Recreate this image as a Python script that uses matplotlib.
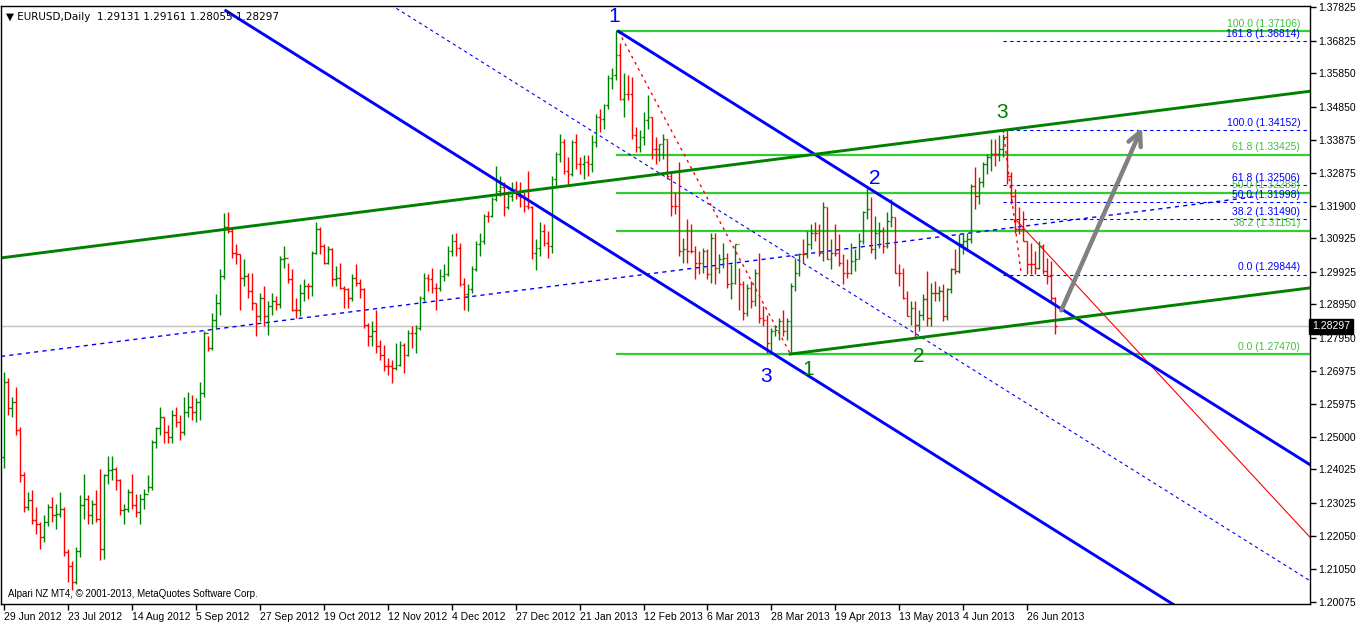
import numpy as np
import matplotlib
matplotlib.use("Agg")
import matplotlib.pyplot as plt

plt.rcParams['font.family'] = ['Liberation Sans', 'DejaVu Sans']

# daily EURUSD bars from 29 Jun 2012 to 5 Jul 2013 (open = previous close)
first_open = 1.2440
last_bar = [1.29131, 1.29161, 1.28055, 1.28297]

highs = [
    1.2693,
    1.2676, 1.2620, 1.2648, 1.2530, 1.2395,
    1.2335, 1.2340, 1.2290, 1.2245, 1.2265,
    1.2300, 1.2320, 1.2300, 1.2335, 1.2290,
    1.2165, 1.2130, 1.2170, 1.2325, 1.2390,
    1.2325, 1.2310, 1.2340, 1.2404, 1.2390,
    1.2444, 1.2443, 1.2410, 1.2375, 1.2300,
    1.2345, 1.2390, 1.2330, 1.2330, 1.2345,
    1.2385, 1.2490, 1.2530, 1.2590, 1.2560,
    1.2535, 1.2580, 1.2590, 1.2565, 1.2620,
    1.2635, 1.2625, 1.2615, 1.2665, 1.2815,
    1.2800, 1.2870, 1.2925, 1.3000, 1.3168,
    1.3172, 1.3125, 1.3075, 1.3045, 1.3030,
    1.2990, 1.2990, 1.2900, 1.2930, 1.2950,
    1.2905, 1.2930, 1.2920, 1.3040, 1.3070,
    1.3020, 1.3000, 1.2915, 1.2955, 1.2970,
    1.2960, 1.3055, 1.3140, 1.3125, 1.3075,
    1.3070, 1.3065, 1.3010, 1.3020, 1.2950,
    1.2945, 1.2985, 1.3015, 1.2970, 1.2945,
    1.2840, 1.2845, 1.2880, 1.2790, 1.2775,
    1.2735, 1.2730, 1.2780, 1.2785, 1.2780,
    1.2820, 1.2830, 1.2835, 1.2920, 1.2990,
    1.2985, 1.3005, 1.2960, 1.3000, 1.3015,
    1.3070, 1.3105, 1.3110, 1.3080, 1.2975,
    1.2955, 1.3010, 1.3085, 1.3110, 1.3165,
    1.3175, 1.3215, 1.3308, 1.3280, 1.3260,
    1.3235, 1.3260, 1.3265, 1.3260,
    1.3230, 1.3295, 1.3190, 1.3090,
    1.3140, 1.3135, 1.3115, 1.3280, 1.3350,
    1.3403, 1.3390, 1.3335, 1.3385, 1.3405,
    1.3335, 1.3340, 1.3340, 1.3400, 1.3465,
    1.3480, 1.3495, 1.3580, 1.3600, 1.3711,
    1.3675, 1.3585, 1.3580, 1.3575, 1.3425,
    1.3415, 1.3470, 1.3520, 1.3455, 1.3395,
    1.3375, 1.3405, 1.3390, 1.3290, 1.3230,
    1.3320, 1.3095, 1.3150, 1.3135, 1.3070,
    1.3055, 1.3065, 1.3060, 1.3110, 1.3110,
    1.3045, 1.3080, 1.3050, 1.3015, 1.3075,
    1.3005, 1.2965, 1.2955, 1.2965, 1.3000,
    1.3050, 1.2890, 1.2865, 1.2825, 1.2835,
    1.2855, 1.2880, 1.2855, 1.2960, 1.3035,
    1.3050, 1.3090, 1.3115, 1.3135, 1.3140,
    1.3135, 1.3200, 1.3185, 1.3090, 1.3135,
    1.3105, 1.3045, 1.3030, 1.3080, 1.3060,
    1.3110, 1.3175, 1.3243, 1.3215, 1.3160,
    1.3140, 1.3125, 1.3170, 1.3210, 1.3155,
    1.3015, 1.3005, 1.2935, 1.2905, 1.2905,
    1.2880, 1.2925, 1.2995, 1.2960, 1.2965,
    1.2950, 1.2955, 1.2945, 1.3005, 1.3060,
    1.3105, 1.3110, 1.3110, 1.3255, 1.3305,
    1.3275, 1.3320, 1.3345, 1.3390, 1.3390,
    1.3400, 1.3405, 1.3416, 1.3290, 1.3240,
    1.3185, 1.3175, 1.3085, 1.3080, 1.3055,
    1.3085, 1.3075, 1.3035, 1.3025, 1.29161,
]

lows = [
    1.2407,
    1.2565, 1.2560, 1.2505, 1.2365, 1.2275,
    1.2282, 1.2240, 1.2210, 1.2165, 1.2185,
    1.2235, 1.2245, 1.2225, 1.2260, 1.2145,
    1.2065, 1.2042, 1.2060, 1.2140, 1.2255,
    1.2240, 1.2240, 1.2245, 1.2133, 1.2135,
    1.2360, 1.2370, 1.2340, 1.2265, 1.2240,
    1.2275, 1.2285, 1.2260, 1.2240, 1.2285,
    1.2335, 1.2340, 1.2465, 1.2505, 1.2480,
    1.2480, 1.2480, 1.2530, 1.2490, 1.2505,
    1.2560, 1.2550, 1.2545, 1.2550, 1.2620,
    1.2755, 1.2760, 1.2825, 1.2865, 1.2970,
    1.3110, 1.3035, 1.3015, 1.2880, 1.2950,
    1.2915, 1.2880, 1.2800, 1.2845, 1.2830,
    1.2805, 1.2865, 1.2880, 1.2885, 1.3005,
    1.2960, 1.2875, 1.2855, 1.2860, 1.2905,
    1.2910, 1.2920, 1.3045, 1.3045, 1.3015,
    1.3015, 1.2950, 1.2950, 1.2940, 1.2885,
    1.2885, 1.2905, 1.2950, 1.2915, 1.2825,
    1.2770, 1.2770, 1.2750, 1.2730, 1.2695,
    1.2685, 1.2661, 1.2700, 1.2710, 1.2690,
    1.2740, 1.2765, 1.2750, 1.2820, 1.2905,
    1.2935, 1.2930, 1.2880, 1.2935, 1.2965,
    1.2980, 1.3040, 1.3040, 1.2950, 1.2880,
    1.2875, 1.2930, 1.2995, 1.3040, 1.3075,
    1.3140, 1.3155, 1.3205, 1.3220, 1.3160,
    1.3180, 1.3205, 1.3210, 1.3185,
    1.3170, 1.3180, 1.3030, 1.2997,
    1.3040, 1.3070, 1.3035, 1.3050, 1.3250,
    1.3320, 1.3285, 1.3255, 1.3280, 1.3300,
    1.3285, 1.3270, 1.3280, 1.3290, 1.3365,
    1.3410, 1.3420, 1.3480, 1.3540, 1.3565,
    1.3505, 1.3455, 1.3505, 1.3390, 1.3350,
    1.3350, 1.3370, 1.3420, 1.3330, 1.3315,
    1.3325, 1.3330, 1.3270, 1.3160, 1.3165,
    1.3040, 1.3020, 1.3020, 1.3050, 1.2970,
    1.2985, 1.2990, 1.2970, 1.2960, 1.2955,
    1.2990, 1.3005, 1.2945, 1.2910, 1.2955,
    1.2880, 1.2850, 1.2860, 1.2885, 1.2890,
    1.2840, 1.2830, 1.2750, 1.2750, 1.2800,
    1.2790, 1.2800, 1.2790, 1.2747, 1.2935,
    1.2980, 1.3020, 1.3035, 1.3060, 1.3085,
    1.3040, 1.3025, 1.3030, 1.3000, 1.3040,
    1.3010, 1.2955, 1.2975, 1.2985, 1.2995,
    1.3030, 1.3075, 1.3150, 1.3050, 1.3030,
    1.3065, 1.3050, 1.3065, 1.3125, 1.2990,
    1.2950, 1.2910, 1.2860, 1.2835, 1.2796,
    1.2815, 1.2850, 1.2830, 1.2830, 1.2905,
    1.2905, 1.2845, 1.2850, 1.2930, 1.2985,
    1.2990, 1.3045, 1.3055, 1.3080, 1.3180,
    1.3195, 1.3245, 1.3285, 1.3295, 1.3310,
    1.3325, 1.3335, 1.3255, 1.3195, 1.3110,
    1.3105, 1.3085, 1.2985, 1.2985, 1.2985,
    1.3000, 1.2985, 1.2955, 1.2900, 1.28055,
]

closes = [
    1.2665,
    1.2585, 1.2605, 1.2520, 1.2385, 1.2290,
    1.2310, 1.2250, 1.2240, 1.2200, 1.2245,
    1.2290, 1.2265, 1.2270, 1.2285, 1.2155,
    1.2115, 1.2065, 1.2160, 1.2295, 1.2315,
    1.2265, 1.2300, 1.2255, 1.2165, 1.2385,
    1.2400, 1.2405, 1.2370, 1.2280, 1.2285,
    1.2335, 1.2295, 1.2275, 1.2315, 1.2330,
    1.2350, 1.2485, 1.2525, 1.2560, 1.2515,
    1.2500, 1.2565, 1.2545, 1.2515, 1.2575,
    1.2590, 1.2575, 1.2605, 1.2630, 1.2810,
    1.2765, 1.2850, 1.2900, 1.2980, 1.3125,
    1.3115, 1.3050, 1.3045, 1.2975, 1.2980,
    1.2935, 1.2900, 1.2860, 1.2915, 1.2860,
    1.2890, 1.2905, 1.2895, 1.3030, 1.3035,
    1.2970, 1.2880, 1.2880, 1.2930, 1.2950,
    1.2950, 1.3050, 1.3120, 1.3070, 1.3020,
    1.3060, 1.2970, 1.2975, 1.2945, 1.2940,
    1.2915, 1.2975, 1.2960, 1.2940, 1.2835,
    1.2800, 1.2815, 1.2770, 1.2745, 1.2710,
    1.2710, 1.2705, 1.2715, 1.2775, 1.2745,
    1.2810, 1.2810, 1.2825, 1.2915, 1.2975,
    1.2970, 1.2945, 1.2945, 1.2980, 1.2985,
    1.3055, 1.3085, 1.3065, 1.2955, 1.2925,
    1.2940, 1.3000, 1.3075, 1.3085, 1.3160,
    1.3160, 1.3210, 1.3235, 1.3245, 1.3185,
    1.3220, 1.3240, 1.3220, 1.3215,
    1.3190, 1.3185, 1.3050, 1.3065,
    1.3115, 1.3080, 1.3070, 1.3270, 1.3345,
    1.3380, 1.3295, 1.3285, 1.3380, 1.3315,
    1.3315, 1.3320, 1.3315, 1.3380, 1.3455,
    1.3450, 1.3490, 1.3570, 1.3580, 1.3640,
    1.3510, 1.3525, 1.3525, 1.3400, 1.3365,
    1.3395, 1.3445, 1.3455, 1.3360, 1.3360,
    1.3375, 1.3390, 1.3280, 1.3190, 1.3190,
    1.3055, 1.3060, 1.3055, 1.3055, 1.3020,
    1.3020, 1.3055, 1.2985, 1.3095, 1.3005,
    1.3030, 1.3035, 1.2955, 1.2960, 1.3075,
    1.2955, 1.2870, 1.2945, 1.2905, 1.2990,
    1.2855, 1.2850, 1.2780, 1.2815, 1.2820,
    1.2845, 1.2815, 1.2845, 1.2950, 1.2990,
    1.3045, 1.3045, 1.3075, 1.3110, 1.3110,
    1.3050, 1.3185, 1.3030, 1.3050, 1.3050,
    1.3020, 1.2990, 1.2990, 1.3025, 1.3030,
    1.3085, 1.3170, 1.3180, 1.3060, 1.3110,
    1.3115, 1.3070, 1.3145, 1.3155, 1.2990,
    1.2990, 1.2915, 1.2860, 1.2885, 1.2835,
    1.2865, 1.2910, 1.2855, 1.2930, 1.2930,
    1.2935, 1.2860, 1.2940, 1.3000, 1.2995,
    1.3075, 1.3085, 1.3090, 1.3250, 1.3220,
    1.3260, 1.3315, 1.3335, 1.3345, 1.3345,
    1.3360, 1.3395, 1.3280, 1.3220, 1.3120,
    1.3120, 1.3085, 1.3015, 1.3015, 1.3005,
    1.3070, 1.2995, 1.2980, 1.29131, 1.28297,
]

date_labels = ['29 Jun 2012', '23 Jul 2012', '14 Aug 2012', '5 Sep 2012', '27 Sep 2012',
               '19 Oct 2012', '12 Nov 2012', '4 Dec 2012', '27 Dec 2012', '21 Jan 2013',
               '12 Feb 2013', '6 Mar 2013', '28 Mar 2013', '19 Apr 2013', '13 May 2013',
               '4 Jun 2013', '26 Jun 2013']
date_bars = [0, 16, 32, 48, 64, 80, 96, 112, 128, 144, 160, 176, 192, 208, 224, 240, 256]

price_ticks = [1.37825, 1.36825, 1.35850, 1.34850, 1.33875, 1.32875, 1.31900, 1.30925,
               1.29925, 1.28950, 1.27950, 1.26975, 1.25975, 1.25000, 1.24025, 1.23025,
               1.22050, 1.21050, 1.20075]

# fibonacci levels
green_fib_levels = [1.37106, 1.33425, 1.32288, 1.31151, 1.27470]
green_fib_names = ['100.0', '61.8', '50.0', '38.2', '0.0']
blue_fib_levels = [1.36814, 1.34152, 1.32506, 1.31998, 1.31490, 1.29844]
blue_fib_names = ['161.8', '100.0', '61.8', '50.0', '38.2', '0.0']

# trend lines (bar, price, bar, price)
blue_upper = [153.75, 1.37106, 326.75, 1.24166]
blue_lower = [55.5, 1.37724, 326.75, 1.17434]
blue_mid = [96.75, 1.37900, 326.75, 1.20700]
blue_rising = [-0.75, 1.27400, 313.0, 1.32169]
green_upper = [-0.75, 1.30341, 326.75, 1.35319]
green_lower = [196.75, 1.27470, 326.75, 1.29446]
red_dot_1 = [153.75, 1.37106, 196.75, 1.27470]
red_dot_2 = [250.0, 1.34152, 254.5, 1.29844]
red_line = [253.0, 1.31500, 326.75, 1.22000]
arrow = [264.25, 1.28700, 285.0, 1.34310]

# wave labels: text, bar, price, colour
wave_labels = [('1', 152.75, 1.37565, '#0000ff'), ('2', 217.75, 1.32698, '#0000ff'),
               ('3', 190.75, 1.26785, '#0000ff'), ('1', 201.25, 1.26994, '#008000'),
               ('2', 228.75, 1.27383, '#008000'), ('3', 249.75, 1.34669, '#008000')]

fig = plt.figure(figsize=(13.58, 6.23), dpi=100)
ax = fig.add_axes([1 / 1358, 19 / 623, 1309 / 1358, 598 / 623])

opens = np.array([first_open] + closes[:-1])
opens[-1] = last_bar[0]
closes = np.array(closes)
idx = np.arange(len(closes))
cols = np.where(closes > opens, '#008000', '#ff0000')

ax.axhline(closes[-1], color='#c0c0c0', lw=1)

# fib lines
ax.hlines(green_fib_levels, 153, 326.75, colors='#32cd32', lw=1.6)
for lv, nm in zip(green_fib_levels, green_fib_names):
    ax.text(324.3, lv + 0.0007, '%s (%.5f)' % (nm, lv), color='#40c040', fontsize=7.5,
            ha='right', va='bottom')
ax.hlines(blue_fib_levels, 250, 326.75, colors='#0000ff', lw=0.8, linestyles=(0, (3, 3)))
for lv, nm in zip(blue_fib_levels, blue_fib_names):
    ax.text(324.3, lv + 0.0007, '%s (%.5f)' % (nm, lv), color='#0000ff', fontsize=7.5,
            ha='right', va='bottom')

def seg(l, **kw):
    ax.plot([l[0], l[2]], [l[1], l[3]], **kw)

seg(blue_mid, color='#0000ff', lw=0.8, ls=(0, (3, 3)))
seg(blue_rising, color='#0000ff', lw=1.0, ls=(0, (3, 3)))
seg(red_dot_1, color='#ff0000', lw=1.0, ls=(0, (2, 3)))
seg(red_dot_2, color='#ff0000', lw=1.0, ls=(0, (2, 3)))
seg(red_line, color='#ff0000', lw=0.8)

# price bars
ax.vlines(idx, lows, highs, colors=cols, lw=1)
ax.hlines(opens, idx - 0.45, idx, colors=cols, lw=1)
ax.hlines(closes, idx, idx + 0.45, colors=cols, lw=1)

seg(blue_upper, color='#0000ff', lw=2.1)
seg(blue_lower, color='#0000ff', lw=2.1)
seg(green_upper, color='#008000', lw=2.1)
seg(green_lower, color='#008000', lw=2.1)

ax.annotate('', xy=(arrow[2], arrow[3]), xytext=(arrow[0], arrow[1]),
            arrowprops=dict(arrowstyle='->', color='#808080', lw=3.2, mutation_scale=24))

for t, b, p, c in wave_labels:
    ax.text(b, p, t, color=c, fontsize=15, ha='center', va='center')

ax.text(0.004, 0.99, '\u25bc EURUSD,Daily  %.5f %.5f %.5f %.5f' % tuple(last_bar),
        transform=ax.transAxes, fontsize=7.5, va='top', ha='left',
        family=['DejaVu Sans'])
ax.text(0.005, 0.008, 'Alpari NZ MT4, \u00a9 2001-2013, MetaQuotes Software Corp.',
        transform=ax.transAxes, fontsize=7, va='bottom', ha='left')

ax.set_xlim(-0.75, 326.75)
ax.set_ylim(1.20006, 1.37864)

ax.yaxis.tick_right()
ax.set_yticks(price_ticks)
ax.set_yticklabels(['%.5f' % v for v in price_ticks])
ax.set_xticks(date_bars)
ax.set_xticklabels(date_labels)
ax.tick_params(axis='both', direction='out', length=4, width=1, labelsize=7.5, pad=2)
for lab in ax.get_xticklabels():
    lab.set_horizontalalignment('left')

ax.text(1.0015, closes[-1], '%.5f' % closes[-1], transform=ax.get_yaxis_transform(),
        color='white', fontsize=7.5, va='center', ha='left',
        bbox=dict(boxstyle='square,pad=0.25', fc='black', ec='black'))

for s in ax.spines.values():
    s.set_linewidth(1)

fig.savefig('out.png', dpi=100)
